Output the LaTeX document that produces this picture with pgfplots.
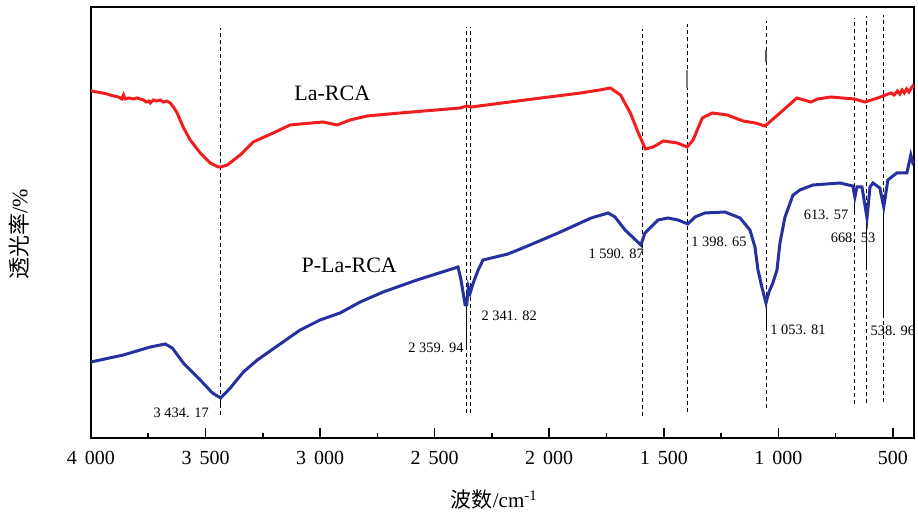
\documentclass[border=0pt]{standalone}
\usepackage{pgfplots}
\pgfplotsset{compat=1.18}
\usepackage{fontspec}
\setmainfont{Liberation Serif}
\newfontfamily\cjk{Noto Sans CJK SC}
\definecolor{cred}{RGB}{240,30,30}
\definecolor{cblue}{RGB}{38,48,158}
\begin{document}
\begin{tikzpicture}
\path[use as bounding box] (-45.5pt,-40pt) rectangle (413.5pt,219pt);
\begin{axis}[
  at={(0,0)}, anchor=south west,
  scale only axis, width=411.5pt, height=215.5pt,
  x dir=reverse, xmin=408, xmax=4000, ymin=0, ymax=431,
  xtick={4000,3500,3000,2500,2000,1500,1000,500},
  xticklabels={4\hspace{0.4em}000,3\hspace{0.4em}500,3\hspace{0.4em}000,2\hspace{0.4em}500,2\hspace{0.4em}000,1\hspace{0.4em}500,1\hspace{0.4em}000,500},
  minor x tick num=1,
  ytick=\empty,
  tick pos=left,
  tick align=inside,
  major tick length=5pt, minor tick length=2.5pt,
  every tick/.style={black, line width=0.8pt},
  axis line style={line width=1pt},
  xticklabel style={font=\fontsize{10}{12}\selectfont, yshift=-3pt},
  xlabel={{\cjk 波数}/cm\textsuperscript{-1}},
  xlabel style={at={(axis description cs:0.49,0)}, anchor=center, yshift=-31pt, font=\fontsize{10.5}{12}\selectfont},
]
% dashed guide lines
\pgfplotsset{guide/.style={black, line width=0.5pt, dash pattern=on 2pt off 1.5pt}}
\addplot[guide] coordinates {(3434.17,23) (3434.17,410)};
\addplot[guide] coordinates {(2359.94,25) (2359.94,411)};
\addplot[guide] coordinates {(2341.82,25) (2341.82,411)};
\addplot[guide] coordinates {(1590.87,22) (1590.87,409)};
\addplot[guide] coordinates {(1398.65,26) (1398.65,414)};
\addplot[guide] coordinates {(1053.81,30) (1053.81,417)};
\addplot[guide] coordinates {(668.53,34) (668.53,420)};
\addplot[guide] coordinates {(613.57,35) (613.57,422)};
\addplot[guide] coordinates {(538.96,36) (538.96,423)};
% short solid marker lines
\addplot[black, line width=0.5pt] coordinates {(3434.17,41) (3434.17,31)};
\addplot[black, line width=0.5pt] coordinates {(2359.94,135) (2359.94,88)};
\addplot[black, line width=0.5pt] coordinates {(1053.81,131) (1053.81,108)};
\addplot[black, line width=0.5pt] coordinates {(668.53,241) (668.53,225)};
\addplot[black, line width=0.5pt] coordinates {(613.57,220) (613.57,171)};
\addplot[black, line width=0.5pt] coordinates {(538.96,231) (538.96,121)};
\addplot[gray, line width=1pt] coordinates {(1398.65,368) (1398.65,350)};
\addplot[gray!70!black, line width=1pt] coordinates {(1053.81,388) (1053.81,376)};
% La-RCA
\addplot[cred, line width=1.5pt] coordinates {
(4000,347) (3975,346) (3950,345) (3930,344) (3916,343) (3900,342) (3880,341)
(3865,339) (3858,343) (3850,339) (3835,340) (3815,339) (3800,340) (3785,339)
(3770,338) (3760,336) (3748,337) (3741,335) (3728,338) (3715,337) (3698,338)
(3685,336) (3670,337) (3654,335) (3640,331) (3624,325) (3598,311) (3567,298)
(3523,285) (3480,275) (3445,271) (3434,271) (3405,273) (3349,283) (3292,296)
(3205,305) (3131,313) (3087,314) (2987,316) (2926,313) (2869,318)
(2795,322) (2651,325) (2389,330) (2360,332) (2341,331) (2105,338) (1863,345)
(1780,348) (1733,350) (1689,343) (1646,325) (1611,305) (1580,289) (1546,291)
(1502,297) (1470,296) (1441,295) (1398,291) (1372,298) (1332,320) (1289,325)
(1223,323) (1154,317) (1100,315) (1058,312) (993,325) (919,340) (858,336)
(828,339) (771,341) (667,339) (623,336) (566,340) (509,345) (495,343)
(480,347) (470,344) (460,348) (450,345) (440,349) (430,346) (420,350)
(413,352) (408,350)
};
% P-La-RCA
\addplot[cblue, line width=1.5pt] coordinates {
(4000,76) (3859,83) (3741,91) (3676,94) (3645,90) (3597,75) (3523,58)
(3470,45) (3434,40) (3392,50) (3335,66) (3274,78) (3131,101) (3087,108)
(3000,118) (2913,125) (2825,136) (2725,146) (2577,158) (2398,171) (2385,158)
(2367,133) (2360,133) (2353,151) (2345,145) (2332,155) (2310,168) (2289,178)
(2180,184) (2105,191) (1961,205) (1817,220) (1743,225) (1713,221) (1669,208)
(1600,193) (1582,205) (1525,218) (1482,220) (1438,218) (1395,214) (1364,221)
(1321,225) (1233,226) (1167,220) (1124,208) (1102,191) (1089,168) (1072,151)
(1054,135) (1041,146) (1024,155) (1006,168) (993,195) (971,221) (936,243)
(906,248) (849,253) (731,255) (675,252) (666,241) (657,251) (635,251)
(613,220) (600,251) (587,255) (557,250) (540,231) (522,258) (483,265)
(439,265) (422,283) (413,275) (408,276)
};
% labels
\node[font=\fontsize{11}{13}\selectfont] at (axis cs:2947,345) {La-RCA};
\node[font=\fontsize{11}{13}\selectfont] at (axis cs:2873,173) {P-La-RCA};
\node[font=\fontsize{7.2}{9}\selectfont] at (axis cs:3606,25) {3 434. 17};
\node[font=\fontsize{7.2}{9}\selectfont] at (axis cs:2494,90) {2 359. 94};
\node[font=\fontsize{7.2}{9}\selectfont] at (axis cs:2175,122) {2 341. 82};
\node[font=\fontsize{7.2}{9}\selectfont] at (axis cs:1708,184) {1 590. 87};
\node[font=\fontsize{7.2}{9}\selectfont] at (axis cs:1259,196) {1 398. 65};
\node[font=\fontsize{7.2}{9}\selectfont] at (axis cs:914,108) {1 053. 81};
\node[font=\fontsize{7.2}{9}\selectfont] at (axis cs:792,223) {613. 57};
\node[font=\fontsize{7.2}{9}\selectfont] at (axis cs:674,200) {668. 53};
\node[font=\fontsize{7.2}{9}\selectfont] at (axis cs:500,107) {538. 96};
\end{axis}
\node[rotate=90, font=\fontsize{11}{13}\selectfont] at (-36pt,102pt) {{\cjk 透光率}/\%};
\end{tikzpicture}
\end{document}
